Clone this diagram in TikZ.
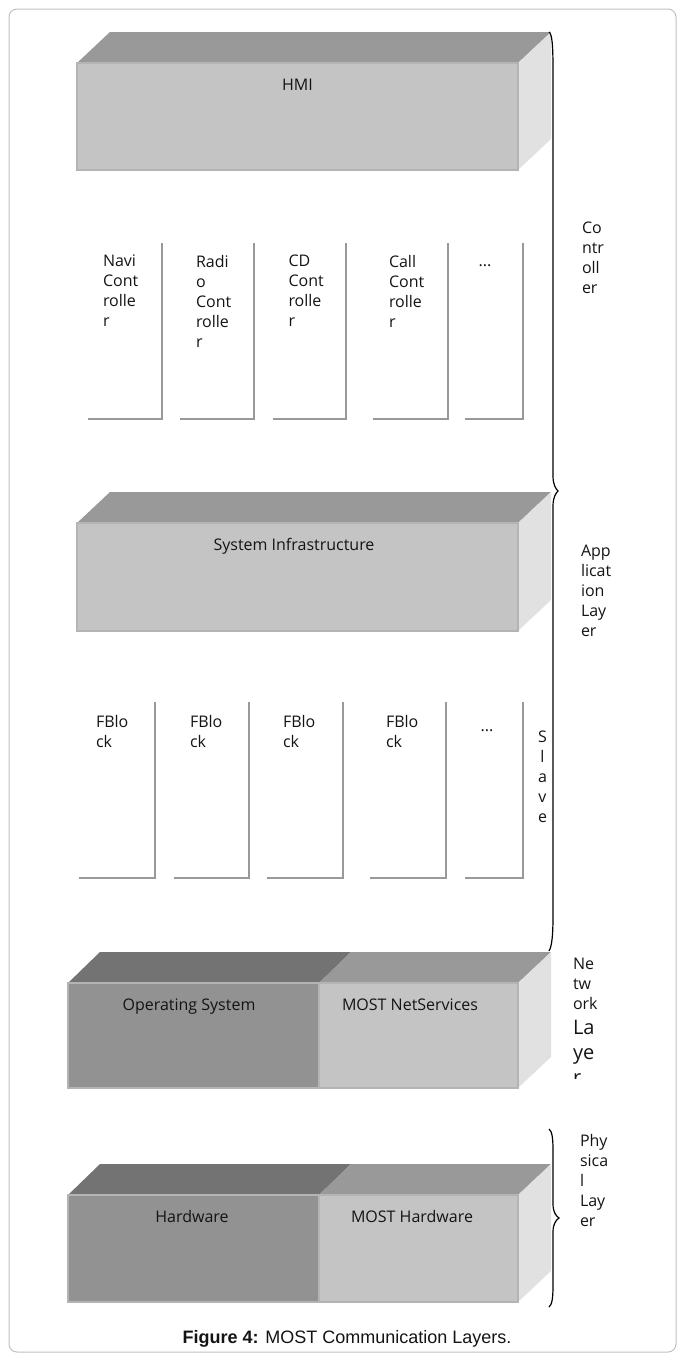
\documentclass[tikz,border=0pt]{standalone}
\usepackage{fontspec}
\setmainfont{Open Sans}
\newfontfamily\capfont{Liberation Sans}
\definecolor{frontL}{HTML}{C4C4C4}
\definecolor{frontD}{HTML}{929292}
\definecolor{topL}{HTML}{999999}
\definecolor{topD}{HTML}{737373}
\definecolor{sideL}{HTML}{E1E1E1}
\definecolor{edgeL}{HTML}{B4B4B4}
\definecolor{colgray}{HTML}{999999}
\definecolor{framegray}{HTML}{C0C0C0}
\definecolor{txt}{HTML}{141414}
\begin{document}
\begin{tikzpicture}[x=1pt,y=-1pt,
  lbl/.style={inner sep=0pt, outer sep=0pt, text=txt, font=\fontsize{16}{20}\selectfont},
  mlbl/.style={lbl, align=left, anchor=north west},
  colline/.style={draw=colgray, line width=2pt},
  bracepath/.style={draw=black, line width=1.2pt},
  facefront/.style={fill=frontL, draw=edgeL, line width=1.2pt},
  facefrontd/.style={fill=frontD, draw=edgeL, line width=1.2pt},
  facetop/.style={fill=topL},
  facetopd/.style={fill=topD},
  faceside/.style={fill=sideL}]
\useasboundingbox (0,0) rectangle (683,1360);
\draw[framegray, line width=1pt, rounded corners=8pt] (9,9) rectangle (676,1352);

% HMI box
\fill[facetop] (77,63) -- (110,32) -- (551,32) -- (518,63) -- cycle;
\fill[faceside] (518,63) -- (551,32) -- (551,139) -- (518,170) -- cycle;
\filldraw[facefront] (77,63) rectangle (518,170);
\node[lbl, anchor=base] (hmi) at (297.5,90) {HMI};

% Controller columns
\draw[colline] (88,419) -- (162,419) -- (162,243);
\draw[colline] (180,419) -- (254,419) -- (254,243);
\draw[colline] (272.5,419) -- (346,419) -- (346,243);
\draw[colline] (373,419) -- (447.5,419) -- (447.5,243);
\draw[colline] (465,419) -- (523,419) -- (523,243);
\node[mlbl] (navi) at (103,255) {Navi\\Cont\\rolle\\r};
\node[mlbl] (radio) at (196,255) {Radi\\o\\Cont\\rolle\\r};
\node[mlbl] (cd) at (288.5,255) {CD\\Cont\\rolle\\r};
\node[mlbl] (call) at (389,255) {Call\\Cont\\rolle\\r};
\node[lbl, anchor=base] (cdots) at (485,266) {...};

% System Infrastructure box
\fill[facetop] (77,523) -- (110,492) -- (551,492) -- (518,523) -- cycle;
\fill[faceside] (518,523) -- (551,492) -- (551,600) -- (518,631) -- cycle;
\filldraw[facefront] (77,523) rectangle (518,631);
\node[lbl, anchor=base] (sysinf) at (294,550) {System Infrastructure};

% FBlock columns
\draw[colline] (79,878) -- (155,878) -- (155,702);
\draw[colline] (174,878) -- (249,878) -- (249,702);
\draw[colline] (267,878) -- (343,878) -- (343,702);
\draw[colline] (370,878) -- (445.5,878) -- (445.5,702);
\draw[colline] (465,878) -- (523,878) -- (523,702);
\node[mlbl] (fb1) at (96,715) {FBlo\\ck};
\node[mlbl] (fb2) at (190,715) {FBlo\\ck};
\node[mlbl] (fb3) at (283,715) {FBlo\\ck};
\node[mlbl] (fb4) at (386,715) {FBlo\\ck};
\node[lbl, anchor=base] (fdots) at (487,731) {...};
\node[lbl, align=center, anchor=north] (slave) at (542.5,731) {S\\l\\a\\v\\e};

% Network layer box
\fill[facetopd] (68,983) -- (100,952) -- (351,952) -- (319,983) -- cycle;
\fill[facetop] (319,983) -- (351,952) -- (551,952) -- (518,983) -- cycle;
\fill[faceside] (518,983) -- (551,952) -- (551,1057) -- (518,1088) -- cycle;
\filldraw[facefrontd] (68,983) rectangle (319,1088);
\filldraw[facefront] (319,983) rectangle (518,1088);
\node[lbl, anchor=base] (os) at (189,1010) {Operating System};
\node[lbl, anchor=base] (netsrv) at (410,1010) {MOST NetServices};

% Physical layer box
\fill[facetopd] (68,1195) -- (100,1164) -- (351,1164) -- (319,1195) -- cycle;
\fill[facetop] (319,1195) -- (351,1164) -- (551,1164) -- (518,1195) -- cycle;
\fill[faceside] (518,1195) -- (551,1164) -- (551,1271) -- (518,1302) -- cycle;
\filldraw[facefrontd] (68,1195) rectangle (319,1302);
\filldraw[facefront] (319,1195) rectangle (518,1302);
\node[lbl, anchor=base] (hw) at (192,1222) {Hardware};
\node[lbl, anchor=base] (mosthw) at (412,1222) {MOST Hardware};

% Braces
\draw[bracepath] (549,32) .. controls (552,34) and (553,44) .. (553,70) -- (553,476)
  .. controls (553,485) and (556,489) .. (558,491)
  .. controls (556,493) and (553,497) .. (553,506) -- (553,915)
  .. controls (553,935) and (552,946) .. (549,951);
\draw[bracepath] (549,1129) .. controls (552,1131) and (553,1138) .. (553,1150) -- (553,1204)
  .. controls (553,1212) and (556,1216) .. (559,1218)
  .. controls (556,1220) and (553,1224) .. (553,1232) -- (553,1286)
  .. controls (553,1298) and (552,1305) .. (549,1307);

% Layer labels
\node[mlbl] (ctrl) at (582,222) {Co\\ntr\\oll\\er};
\node[mlbl] (appl) at (581,545) {App\\licat\\ion\\Lay\\er};
\node[mlbl] (netl1) at (573,958) {Ne\\tw\\ork};
\begin{scope}
\clip (560,1010) rectangle (660,1078);
\node[mlbl, font=\fontsize{20}{25}\selectfont] (netl2) at (573,1020) {La\\ye\\r};
\end{scope}
\node[mlbl] (phys) at (580,1134) {Phy\\sica\\l\\Lay\\er};

% Caption
\node[anchor=base, inner sep=0pt, text=txt, font=\capfont\fontsize{18}{22}\selectfont] (caption) at (347,1343) {\textbf{Figure 4:} MOST Communication Layers.};
\end{tikzpicture}
\end{document}
